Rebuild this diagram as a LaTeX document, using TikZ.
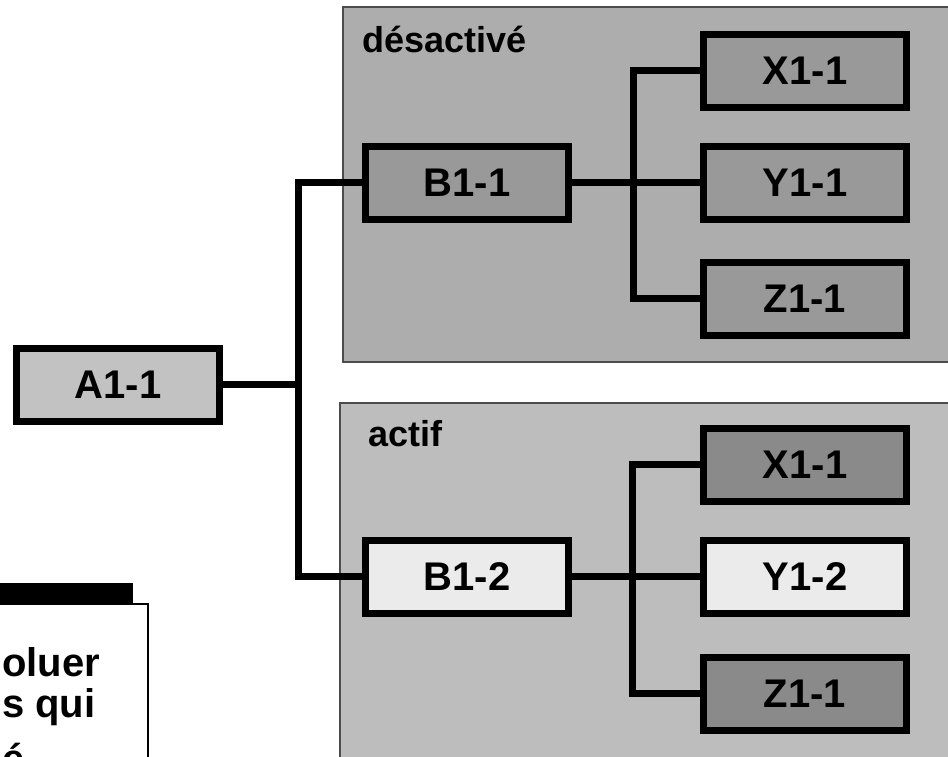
\documentclass[tikz,border=0pt]{standalone}
\usepackage{fontspec}
\setmainfont{Liberation Sans}
\usepackage{xcolor}
\usepackage{tikz}
\usetikzlibrary{positioning,calc}

\definecolor{paneloff}{gray}{0.68}
\definecolor{panelon}{gray}{0.74}
\definecolor{boxoff}{gray}{0.60}
\definecolor{boxdeep}{gray}{0.54}
\definecolor{boxlit}{gray}{0.92}
\definecolor{boxroot}{gray}{0.76}

\begin{document}
\begin{tikzpicture}[
    x=1pt, y=1pt,
    box/.style={rectangle, draw, line width=7pt, minimum width=203pt, minimum height=73pt, inner sep=0pt, font=\bfseries\fontsize{40}{42}\selectfont},
    off/.style={box, fill=boxoff},
    deep/.style={box, fill=boxdeep},
    lit/.style={box, fill=boxlit},
    root/.style={box, fill=boxroot},
    tag/.style={anchor=base west, inner sep=0pt, font=\bfseries\fontsize{36}{38}\selectfont},
    note/.style={anchor=base west, inner sep=0pt, font=\bfseries\fontsize{40}{41}\selectfont},
    link/.style={line width=7pt},
    panel/.style={draw=black!70, line width=1.5pt},
]
\useasboundingbox (0,0) rectangle (948,757);
\clip (0,0) rectangle (948,757);
\fill[white] (0,0) rectangle (948,757);

% panels
\fill[paneloff, panel] (343,395) rectangle (960,750);
\fill[panelon, panel] (340,-10) rectangle (960,354);
\node[tag] (offtag) at (362,704) {désactivé};
\node[tag] (ontag) at (368,310) {actif};

% boxes
\node[root] (a11) at (118,372) {A1-1};
\node[off] (b11) at (467,574) {B1-1};
\node[off, right=128pt of b11] (y11) {Y1-1};
\node[off, above=32pt of y11] (x11) {X1-1};
\node[off, below=36pt of y11] (z11) {Z1-1};
\node[lit] (b12) at (467,180) {B1-2};
\node[lit, right=128pt of b12] (y12) {Y1-2};
\node[deep, above=32pt of y12] (x12) {X1-1};
\node[deep, below=37pt of y12] (z12) {Z1-1};

% links
\coordinate[right=75pt of a11.east] (ja);
\coordinate[right=61pt of b11.east] (jb);
\coordinate[right=60pt of b12.east] (jc);
\draw[link] (a11) -- (ja) |- (b11);
\draw[link] (ja) |- (b12);
\draw[link] (b11) -- (jb) |- (x11);
\draw[link] (jb) |- (z11);
\draw[link] (jb) -- (y11);
\draw[link] (b12) -- (jc) |- (x12);
\draw[link] (jc) |- (z12);
\draw[link] (jc) -- (y12);

% cut-off note
\fill[black] (0,153) rectangle (133,174);
\draw[line width=1.5pt] (0,153) -- (148,153) -- (148,-5);
\node[note] (note1) at (2,80) {oluer};
\node[note] (note2) at (2,39) {s qui};
\node[note] (note3) at (2,-16) {é};
\end{tikzpicture}
\end{document}
